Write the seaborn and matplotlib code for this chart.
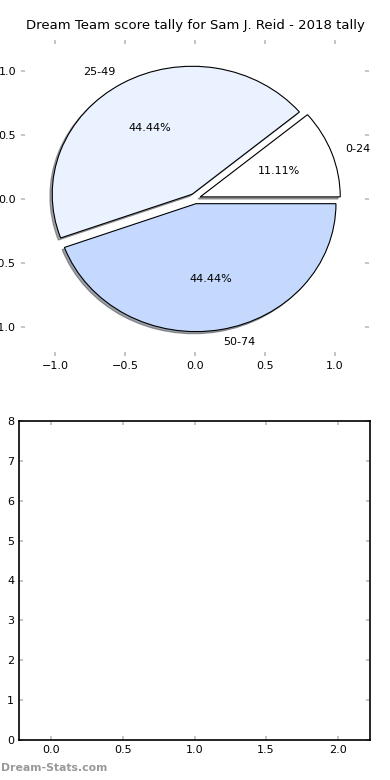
import numpy as np
import matplotlib
matplotlib.use('Agg')
import matplotlib.pyplot as plt
import seaborn as sns

# pie data
labels = ['0-24', '25-49', '50-74']
counts = [1, 4, 4]
colours = ['#ffffff', '#eaf1ff', '#c5d9ff']
explode = [0.04, 0.04, 0.04]

# bottom chart (empty bars)
positions = [0, 1, 2]
heights = [0, 0, 0]

sns.set_style('white')
plt.rcParams['font.family'] = ['DejaVu Sans']
plt.rcParams.update({
    'text.color': 'black',
    'xtick.direction': 'in', 'ytick.direction': 'in',
    'xtick.color': '#bbbbbb', 'ytick.color': '#bbbbbb',
    'xtick.labelcolor': 'black', 'ytick.labelcolor': 'black',
    'xtick.major.size': 3, 'ytick.major.size': 3,
    'xtick.major.width': 1.2, 'ytick.major.width': 1.2,
    'xtick.labelsize': 8, 'ytick.labelsize': 8,
    'xtick.top': True, 'ytick.right': True,
    'xtick.bottom': True, 'ytick.left': True,
})

fig = plt.figure(figsize=(3.9, 7.8), dpi=100)

ax1 = fig.add_axes([21/390, 1 - 356/780, 348/390, 316/780])
ax1.pie(counts, labels=labels, colors=colours, explode=explode, autopct='%.2f%%',
        shadow={'ox': -0.012, 'oy': -0.012}, frame=True,
        wedgeprops={'edgecolor': 'black', 'linewidth': 0.8},
        textprops={'fontsize': 8, 'color': 'black'})
ax1.set_aspect('auto')
ax1.set_xlim(-1.243, 1.243)
ax1.set_ylim(-1.23, 1.24)
ax1.set_xticks([-1.0, -0.5, 0.0, 0.5, 1.0])
ax1.set_yticks([-1.0, -0.5, 0.0, 0.5, 1.0])
for s in ax1.spines.values():
    s.set_visible(False)
ax1.set_title('Dream Team score tally for Sam J. Reid - 2018 tally', fontsize=9.5, pad=8, color='black')

ax2 = fig.add_axes([19/390, 1 - 740/780, 351/390, 319/780])
ax2.bar(positions, heights, width=0.45, color='#c5d9ff')
ax2.margins(x=0)
ax2.set_ylim(0, 8)
ax2.set_xticks([0.0, 0.5, 1.0, 1.5, 2.0])
ax2.set_yticks(range(0, 9))
for s in ax2.spines.values():
    s.set_visible(True)
    s.set_color('black')
    s.set_linewidth(1.2)

fig.text(0.003, 0.012, 'Dream-Stats.com', fontsize=7.8, color='#999999', fontweight='bold')

fig.savefig('out.png', dpi=100)
